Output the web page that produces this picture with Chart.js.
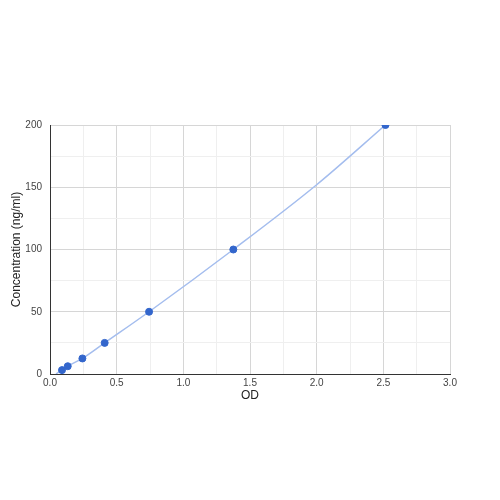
<!DOCTYPE html>
<html>
<head>
<meta charset="utf-8">
<script src="https://cdn.jsdelivr.net/npm/chart.js@4"></script>
<style>
  html, body { margin: 0; padding: 0; background: #fff; }
  #wrap { width: 500px; height: 500px; }
</style>
</head>
<body>
<div id="wrap"><canvas id="curve" width="500" height="500"></canvas></div>
<script>
    // standard curve points
    const odValues = [0.09, 0.133, 0.243, 0.41, 0.743, 1.375, 2.516];
    const concValues = [3.125, 6.25, 12.5, 25, 50, 100, 200];
    // fitted curve
    const fitOd = [0.045, 0.09, 0.133, 0.243, 0.41, 0.743, 1.375, 2.0, 2.516];
    const fitConc = [0, 3.125, 6.25, 12.5, 25, 50, 100, 152, 200];
    const xTicks = [0, 0.5, 1.0, 1.5, 2.0, 2.5, 3.0];
    const yTicks = [0, 50, 100, 150, 200];

    const points = odValues.map((x, i) => ({ x: x, y: concValues[i] }));
    const fit = fitOd.map((x, i) => ({ x: x, y: fitConc[i] }));

    const major = '#d6d6d6';
    const minor = '#efefef';

    function isMajor(v, list) {
      return list.some(t => Math.abs(t - v) < 1e-6);
    }

    const chart = new Chart(document.getElementById("curve"), {
      type: 'scatter',
      data: {
        datasets: [{
          label: 'fit',
          data: fit,
          showLine: true,
          borderColor: '#a4bdee',
          borderWidth: 1.5,
          pointRadius: 0,
          cubicInterpolationMode: 'monotone',
          order: 2
        }, {
          label: 'points',
          data: points,
          backgroundColor: '#3366cc',
          borderColor: '#3366cc',
          pointRadius: 3.5,
          order: 1
        }]
      },
      options: {
        responsive: false,
        animation: false,
        layout: { padding: { top: 125, right: 50, left: 5, bottom: 97 } },
        plugins: {
          legend: { display: false },
          tooltip: { enabled: false }
        },
        scales: {
          x: {
            type: 'linear',
            min: 0,
            max: 3,
            ticks: {
              stepSize: 0.25,
              padding: 3,
              color: '#444',
              font: { family: 'Liberation Sans', size: 10 },
              maxRotation: 0,
              callback: v => isMajor(v, xTicks) ? v.toFixed(1) : ''
            },
            grid: {
              drawTicks: false,
              color: ctx => isMajor(ctx.tick.value, xTicks) ? major : minor
            },
            border: { color: '#333', width: 1 },
            title: {
              display: true,
              text: 'OD',
              color: '#222',
              font: { family: 'Liberation Sans', size: 12 },
              padding: { top: 2, bottom: 0 }
            },
            afterFit: s => { s.height = 29; }
          },
          y: {
            type: 'linear',
            min: 0,
            max: 200,
            ticks: {
              stepSize: 25,
              padding: 8,
              color: '#444',
              font: { family: 'Liberation Sans', size: 10 },
              callback: v => isMajor(v, yTicks) ? String(v) : ''
            },
            grid: {
              drawTicks: false,
              color: ctx => isMajor(ctx.tick.value, yTicks) ? major : minor
            },
            border: { color: '#333', width: 1 },
            title: {
              display: true,
              text: 'Concentration (ng/ml)',
              color: '#222',
              font: { family: 'Liberation Sans', size: 12 },
              padding: { top: 4, bottom: 0 }
            },
            afterFit: s => { s.width = 45; }
          }
        }
      }
    });
</script>
</body>
</html>
